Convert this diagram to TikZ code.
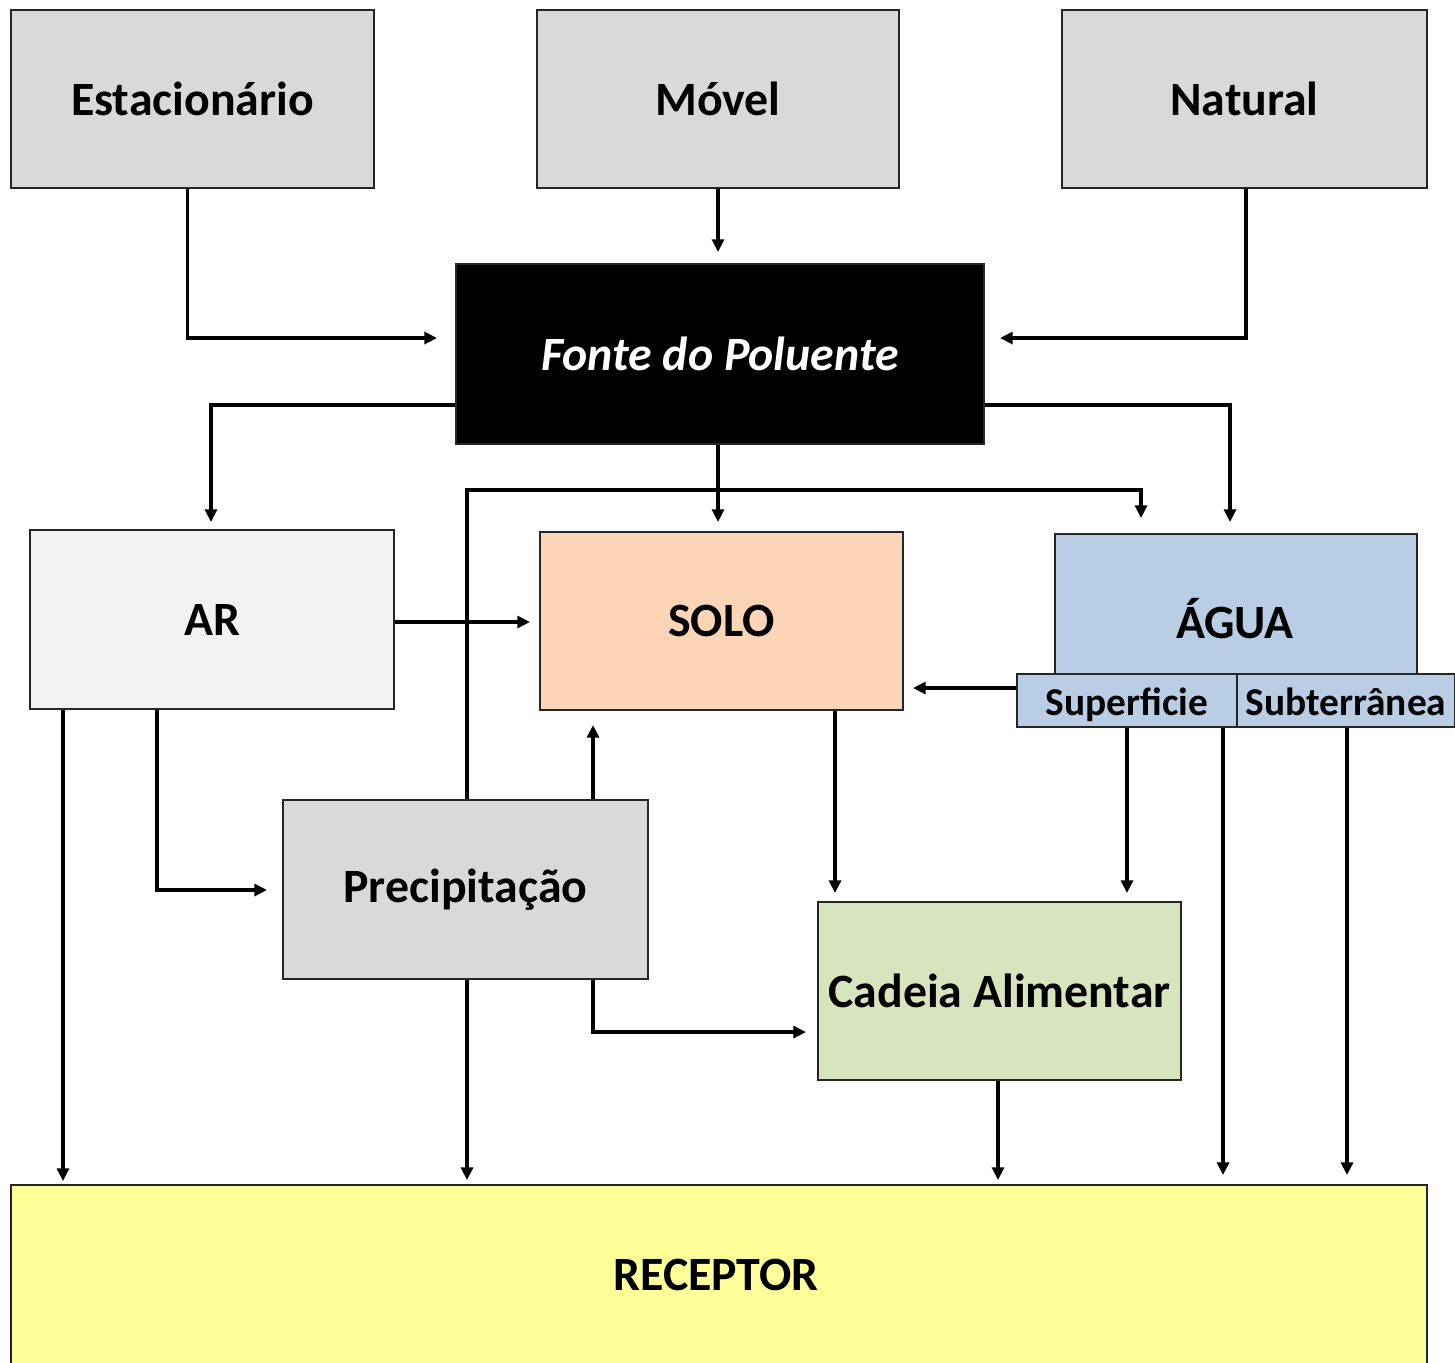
\documentclass[tikz,border=0pt]{standalone}
\usepackage{fontspec}
\setmainfont{Carlito}
\usetikzlibrary{calc,arrows.meta}
\definecolor{gbox}{HTML}{D9D9D9}
\definecolor{arbox}{HTML}{F2F2F2}
\definecolor{solobox}{HTML}{FBD5B5}
\definecolor{aguabox}{HTML}{B9CDE5}
\definecolor{cadbox}{HTML}{D7E4BD}
\definecolor{recbox}{HTML}{FFFF99}
\tikzset{
  box/.style={draw=black!85, line width=0.6pt, inner sep=0pt, align=center,
    font=\fontsize{13.6}{16}\selectfont\bfseries},
  subbox/.style={box, fill=aguabox, font=\fontsize{11.2}{13}\selectfont\bfseries,
    text height=2.2ex, text depth=0.45ex},
  lbl/.style={font=\fontsize{13.6}{16}\selectfont\bfseries, inner sep=0pt},
  conn/.style={line width=1.05pt},
  arr/.style={conn, -{Triangle[length=3.6pt,width=3.4pt]}},
}
\begin{document}
\begin{tikzpicture}[x=0.01cm,y=-0.01cm]
\useasboundingbox (0,0) rectangle (1455,1362);
\clip (0,0) rectangle (1455,1362);
\fill[white] (0,0) rectangle (1455,1362);
% boxes
\node[box, fill=gbox, minimum width=3.63cm, minimum height=1.78cm] (est) at (192.5,99) {Estacionário};
\node[box, fill=gbox, minimum width=3.62cm, minimum height=1.78cm] (mov) at (718,99) {Móvel};
\node[box, fill=gbox, minimum width=3.65cm, minimum height=1.78cm] (nat) at (1244.5,99) {Natural};
\node[box, fill=black, text=white, minimum width=5.28cm, minimum height=1.80cm,
  font=\fontsize{13.6}{16}\selectfont\bfseries\itshape] (fonte) at (720,354) {Fonte do Poluente};
\node[box, fill=arbox, minimum width=3.64cm, minimum height=1.79cm] (ar) at (212,619.5) {AR};
\node[box, fill=solobox, minimum width=3.63cm, minimum height=1.78cm] (solo) at (721.5,621) {SOLO};
\node[box, fill=aguabox, minimum width=3.62cm, minimum height=1.76cm] (agua) at (1236,622) {};
\node[lbl] (aguatxt) at (1235,619) {ÁGUA};
\node[subbox, minimum width=2.20cm, minimum height=0.53cm] (sup) at (1127,700.5) {Superficie};
\node[subbox, minimum width=2.18cm, minimum height=0.53cm] (sub) at (1346,700.5) {Subterrânea};
\node[box, fill=gbox, minimum width=3.65cm, minimum height=1.79cm] (prec) at (465.5,889.5) {Precipitação};
\node[box, fill=cadbox, minimum width=3.63cm, minimum height=1.78cm] (cad) at (999.5,991) {Cadeia Alimentar};
\node[box, fill=recbox, minimum width=14.16cm, minimum height=1.90cm] (rec) at (719,1280) {};
\node[lbl] (rectxt) at (716,1275) {RECEPTOR};
% free ends
\coordinate (e1) at (437,338);
\coordinate (e2) at (718,252);
\coordinate (e3) at (1000,338);
\coordinate (e4) at (211,522);
\coordinate (e5) at (1230,522);
\coordinate (e6) at (718,522);
\coordinate (e7) at (1141,518);
\coordinate (e8) at (530,622);
\coordinate (e9) at (913,688);
\coordinate (e10) at (593,725);
\coordinate (e11) at (835,893);
\coordinate (e12) at (1127,893);
\coordinate (e13) at (267,890);
\coordinate (e14) at (63,1181);
\coordinate (e15) at (467,1180);
\coordinate (e16) at (806,1032);
\coordinate (e17) at (998,1180);
\coordinate (e18) at (1223,1175);
\coordinate (e19) at (1347,1175);
% connectors
\draw[arr] ($(est.south)+(-5,0)$) |- (e1);
\draw[arr] (mov.south) -- (e2);
\draw[arr] ($(nat.south)+(1.5,0)$) |- (e3);
\draw[arr] ($(fonte.west)+(0,51)$) -| (e4);
\draw[arr] ($(fonte.east)+(0,51)$) -| (e5);
\draw[arr] ($(fonte.south)+(-2,0)$) -- (e6);
\draw[arr] ($(prec.north)+(1.5,0)$) -- (467,490) -| (e7);
\draw[arr] ($(ar.east)+(0,2.5)$) -- (e8);
\draw[arr] ($(sup.west)+(0,-12.5)$) -- (e9);
\draw[arr] ($(prec.north)+(127.5,0)$) -- (e10);
\draw[arr] ($(solo.south)+(113.5,0)$) -- (e11);
\draw[arr] (sup.south) -- (e12);
\draw[arr] ($(ar.south)+(-55,0)$) |- (e13);
\draw[arr] ($(ar.south)+(-149,0)$) -- (e14);
\draw[arr] ($(prec.south)+(1.5,0)$) -- (e15);
\draw[arr] ($(prec.south)+(127.5,0)$) |- (e16);
\draw[arr] ($(cad.south)+(-1.5,0)$) -- (e17);
\draw[arr] ($(sup.south)+(96,0)$) -- (e18);
\draw[arr] ($(sub.south)+(1,0)$) -- (e19);
\end{tikzpicture}
\end{document}
